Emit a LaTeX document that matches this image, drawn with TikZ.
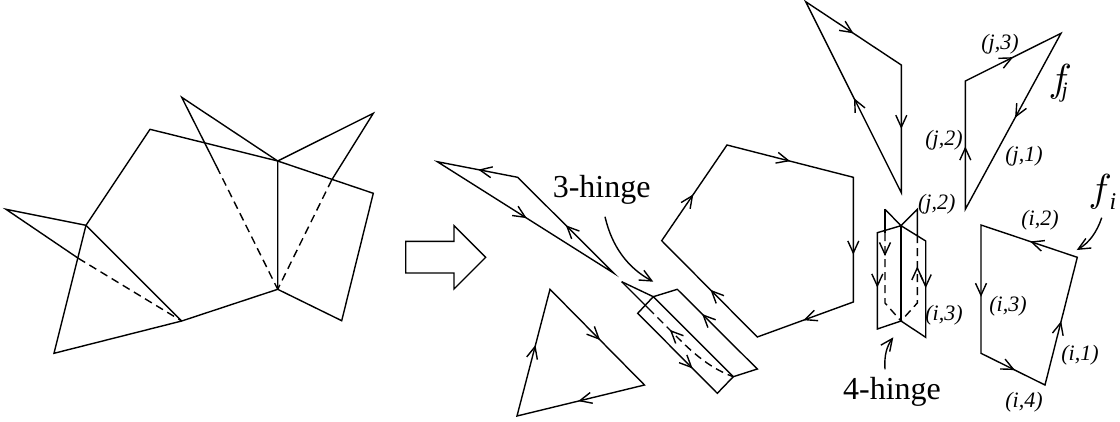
\documentclass[tikz,border=0pt]{standalone}
\usepackage{fontspec}
\setmainfont{Liberation Serif}
\usetikzlibrary{calc, arrows.meta}
\tikzset{
    edgelabel/.style={font=\fontsize{22}{22}\selectfont\itshape, inner sep=0pt},
    sublabel/.style={font=\fontsize{24}{24}\selectfont\itshape, inner sep=0pt},
    hingelabel/.style={font=\fontsize{32}{32}\selectfont, inner sep=0pt},
    hidden/.style={dash pattern=on 8pt off 5pt},
}
\newcommand{\facef}{\scalebox{3.9}{$f$}}
\begin{document}
\begin{tikzpicture}[x=1pt, y=-1pt, line width=1.4pt, line join=miter, >={Straight Barb[length=12pt, width=11pt]}]
        \useasboundingbox (0,0) rectangle (1120,421);
        % surface before the split
        \coordinate (s1) at (150,129.3);
        \coordinate (s2) at (277.7,161);
        \coordinate (s3) at (373.3,193.3);
        \coordinate (s4) at (341.7,320.7);
        \coordinate (s5) at (277.7,289.3);
        \coordinate (s6) at (181.7,321);
        \coordinate (s7) at (54,353.3);
        \coordinate (s8) at (86,225.3);
        \coordinate (w1) at (6,209.3);
        \coordinate (w2) at (78.3,258.3);
        \coordinate (w3) at (181.7,97.3);
        \coordinate (w4) at (216.7,166.7);
        \coordinate (w5) at (373.3,113.3);
        \coordinate (w6) at (331.7,180);
        \draw (s1)--(s2)--(s3)--(s4)--(s5)--(s6)--(s7)--(s8)--cycle;
        \draw (s8)--(s6) (s2)--(s5);
        \draw (s8)--(w1)--(w2) (s2)--(w3)--(w4) (s2)--(w5)--(w6);
        \draw[hidden] (w2)--(s6);
        \draw[hidden] (w4)--(s5);
        \draw[hidden] (w6)--(s5);
        % big arrow
        \draw (405.7,241.3)--(454,241.3)--(454,225.7)--(485.7,257.3)--(454,289)--(454,273)--(405.7,273)--cycle;
        % faces after the split
        \coordinate (a1) at (437.3,161.7);
        \coordinate (a2) at (517.7,177.3);
        \coordinate (a3) at (614,273.3);
        \coordinate (h1) at (661.7,240.7);
        \coordinate (h2) at (727,145);
        \coordinate (h3) at (853.3,177.3);
        \coordinate (h4) at (853.3,302);
        \coordinate (h5) at (757.3,337);
        \coordinate (t1) at (550,289.3);
        \coordinate (t2) at (644.5,385);
        \coordinate (t3) at (517,416);
        \coordinate (p1) at (805.7,1.7);
        \coordinate (p2) at (901.3,65);
        \coordinate (p3) at (901.3,192.7);
        \coordinate (j1) at (965.3,81);
        \coordinate (j2) at (1061,33.3);
        \coordinate (j3) at (965.3,209.3);
        \coordinate (i1) at (981,225);
        \coordinate (i2) at (1077.3,257.3);
        \coordinate (i3) at (1045,385);
        \coordinate (i4) at (981,353.3);
        \draw (a1)--(a2)--(a3)--cycle;
        \draw (h1)--(h2)--(h3)--(h4)--(h5)--cycle;
        \draw (t1)--(t2)--(t3)--cycle;
        \draw (p1)--(p2)--(p3)--cycle;
        \draw (j1)--(j2)--(j3)--cycle;
        \draw (i1)--(i2)--(i3)--(i4)--cycle;
        % 3-hinge
        \coordinate (b1) at (621.7,281.7);
        \coordinate (b2) at (653.3,296.7);
        \coordinate (b3) at (677.3,289.3);
        \coordinate (b4) at (757.3,369);
        \coordinate (b5) at (733.3,376.7);
        \coordinate (b6) at (717.3,393.3);
        \coordinate (b7) at (637.7,313.3);
        \coordinate (b8) at (648.3,308.3);
        \coordinate (b9) at (678.3,338.3);
        \draw (b1)--(b2)--(b3)--(b4)--(b5)--(b6)--(b7)--(b2)--(b5);
        \draw (b1)--(b8);
        \draw[hidden] (b8)--(b9) .. controls (695,355) and (712,369) .. (b5);
        % 4-hinge
        \coordinate (c1) at (885,209.3);
        \coordinate (c2) at (917.3,209.3);
        \coordinate (c3) at (901,225.7);
        \coordinate (c4) at (877.3,232.7);
        \coordinate (c5) at (925.7,241);
        \coordinate (c6) at (925.7,337.3);
        \coordinate (c7) at (901,321);
        \coordinate (c8) at (877.3,329);
        \coordinate (c9) at (885,233);
        \coordinate (c10) at (917.3,235);
        \coordinate (c11) at (885,303);
        \coordinate (c12) at (917.3,303);
        \draw (c1)--(c3)--(c5)--(c6)--(c7)--(c8)--(c4)--(c3)--(c2)--(c10);
        \draw (c1)--(c9) (c3)--(c7);
        \draw[hidden] (c9)--(c11)--(c7);
        \draw[hidden] (c10)--(c12)--(c7);
        % arrows on the edges, at a fraction of the edge
        \foreach \from/\to/\part in {a2/a1/0.49, a3/a2/0.5, a1/a3/0.506,
                h1/h2/0.484, h2/h3/0.5, h3/h4/0.62, h4/h5/0.52, h5/h1/0.49,
                t3/t1/0.56, t1/t2/0.53, t2/t3/0.52,
                p1/p2/0.5, p2/p3/0.5, p3/p1/0.495,
                j1/j2/0.5, j2/j3/0.48, j3/j1/0.49,
                i2/i1/0.49, i1/i4/0.56, i4/i3/0.53, i3/i2/0.5,
                b4/b3/0.69, b7/b6/0.69,
                c4/c8/0.57, c5/c6/0.49,
                b9/b8/0.28, c9/c11/0.33, c12/c10/0.54} {
            \coordinate (tip) at ($ (\from)!\part!(\to) $);
            \draw[->] ($ (tip)!2pt!(\from) $) -- (tip);
        }
        % labels
        \node[hingelabel] (hinge3) at (601.7,190) {3-hinge};
        \node[hingelabel] (hinge4) at (892,392) {4-hinge};
        \node[edgelabel] (j3lab) at (1000,44.3) {(j,3)};
        \node[edgelabel] (j2lab) at (944,140) {(j,2)};
        \node[edgelabel] (j1lab) at (1024,156.7) {(j,1)};
        \node[edgelabel] (j2hinge) at (936.7,204) {(j,2)};
        \node[edgelabel] (i2lab) at (1040,220) {(i,2)};
        \node[edgelabel] (i3hinge) at (944,315) {(i,3)};
        \node[edgelabel] (i3lab) at (1008,306.7) {(i,3)};
        \node[edgelabel] (i1lab) at (1080,355) {(i,1)};
        \node[edgelabel] (i4lab) at (1024,402.7) {(i,4)};
        \node[inner sep=0pt, anchor=base west] (fj) at (1048,91) {\facef};
        \node[edgelabel, anchor=base west] (fjsub) at (1061,97) {j};
        \node[inner sep=0pt, anchor=base west] (fi) at (1088,201) {\facef};
        \node[sublabel, anchor=base west] (fisub) at (1109,209) {i};
        % pointers
        \coordinate (q3) at (653.3,281.7);
        \coordinate (q4) at (893.3,337.3);
        \coordinate (qi) at (1076.7,250);
        \draw[->] (605,216.7) .. controls (612,247) and (628,268) .. (q3);
        \draw[->] (885,369.3) .. controls (884,355) and (887,346) .. (q4);
        \draw[->] (1101.7,217.7) .. controls (1097,232) and (1089,243) .. (qi);
\end{tikzpicture}
\end{document}
